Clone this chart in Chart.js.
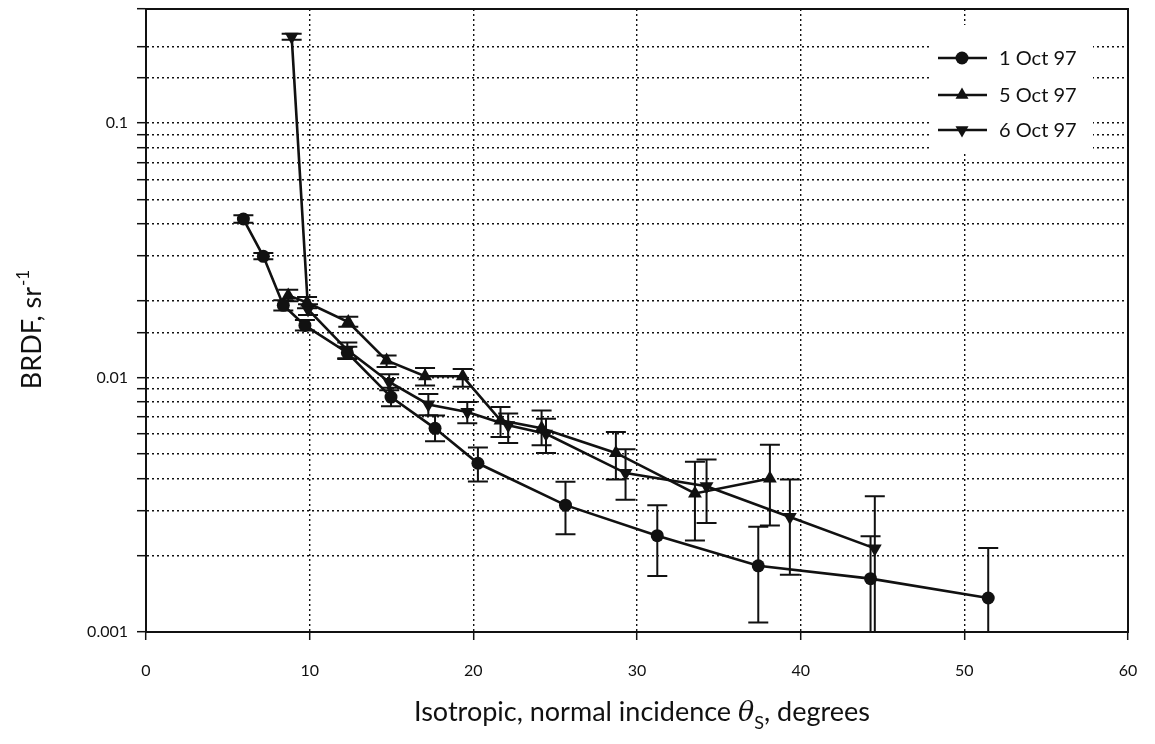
<!DOCTYPE html>
<html>
<head>
<meta charset="utf-8">
<script src="https://cdn.jsdelivr.net/npm/chart.js@4.4.0/dist/chart.umd.min.js"></script>
<style>
  html, body { margin: 0; padding: 0; background: #fff; }
</style>
</head>
<body>
<canvas id="brdfChart" width="1155" height="744"></canvas>
<script>
// 1 Oct 97 - angles (deg), BRDF (sr^-1) and error bar limits
const oct1Angle = [5.95, 7.17, 8.39, 9.71, 12.3, 14.97, 17.66, 20.28, 25.63, 31.24, 37.41, 44.27, 51.46];
const oct1Brdf  = [0.0419, 0.0299, 0.0192, 0.0160, 0.0125, 0.00837, 0.00631, 0.00460, 0.00315, 0.00239, 0.00182, 0.00162, 0.00136];
const oct1Low   = [0.0405, 0.0291, 0.0183, 0.0153, 0.0118, 0.0077, 0.00561, 0.0039, 0.00242, 0.00166, 0.00109, 0.0005, 0.0005];
const oct1High  = [0.0434, 0.0308, 0.0201, 0.0168, 0.0132, 0.0091, 0.00709, 0.00531, 0.00389, 0.00315, 0.00259, 0.00238, 0.00214];

// 5 Oct 97
const oct5Angle = [8.69, 9.84, 12.36, 14.7, 17.05, 19.35, 21.66, 24.17, 28.71, 33.54, 38.12];
const oct5Brdf  = [0.0210, 0.0197, 0.0165, 0.01166, 0.0101, 0.0101, 0.00678, 0.00631, 0.00505, 0.0035, 0.00401];
const oct5Low   = [0.0199, 0.0187, 0.0158, 0.0110, 0.0093, 0.0092, 0.00583, 0.00541, 0.00397, 0.00229, 0.00262];
const oct5High  = [0.0221, 0.0207, 0.0173, 0.0122, 0.0109, 0.0108, 0.00765, 0.00742, 0.00610, 0.00466, 0.00544];

// 6 Oct 97
const oct6Angle = [8.9, 9.9, 12.3, 14.86, 17.25, 19.63, 22.13, 24.44, 29.3, 34.25, 39.34, 44.53];
const oct6Brdf  = [0.218, 0.0185, 0.0128, 0.0096, 0.00783, 0.00731, 0.00649, 0.00601, 0.00421, 0.00374, 0.00283, 0.00213];
const oct6Low   = [0.212, 0.0176, 0.0119, 0.0089, 0.0071, 0.0066, 0.00553, 0.00505, 0.00331, 0.00268, 0.00168, 0.0005];
const oct6High  = [0.224, 0.0194, 0.0137, 0.0103, 0.0086, 0.0080, 0.00721, 0.00688, 0.00522, 0.00476, 0.00397, 0.00341];

// axis ticks
const xTicks = [0, 10, 20, 30, 40, 50, 60];
const yLabels = [0.001, 0.01, 0.1];

const seriesNames = ['1 Oct 97', '5 Oct 97', '6 Oct 97'];

const INK = '#111';
const FONT = 'Lato, "Open Sans", sans-serif';

function toPoints(xs, ys) {
    return xs.map((v, i) => ({ x: v, y: ys[i] }));
}

// error bars drawn under the markers
const errorBars = {
    id: 'errorBars',
    beforeDatasetsDraw(chart) {
        const { ctx, chartArea, scales: { x, y } } = chart;
        ctx.save();
        ctx.beginPath();
        ctx.rect(chartArea.left, chartArea.top, chartArea.width, chartArea.height);
        ctx.clip();
        ctx.strokeStyle = INK;
        ctx.lineWidth = 2;
        chart.data.datasets.forEach(ds => {
            ds.data.forEach((p, i) => {
                const px = x.getPixelForValue(p.x);
                const top = y.getPixelForValue(ds.errHigh[i]);
                const bot = y.getPixelForValue(ds.errLow[i]);
                ctx.beginPath();
                ctx.moveTo(px, top); ctx.lineTo(px, bot);
                ctx.moveTo(px - 10, top); ctx.lineTo(px + 10, top);
                ctx.moveTo(px - 10, bot); ctx.lineTo(px + 10, bot);
                ctx.stroke();
            });
        });
        ctx.restore();
    }
};

function marker(ctx, style, cx, cy) {
    ctx.beginPath();
    if (style === 'circle') {
        ctx.arc(cx, cy, 6.5, 0, Math.PI * 2);
    } else {
        const r = 7.5, dir = style === 'up' ? 1 : -1;
        ctx.moveTo(cx, cy - dir * r);
        ctx.lineTo(cx + r * 0.866, cy + dir * r * 0.5);
        ctx.lineTo(cx - r * 0.866, cy + dir * r * 0.5);
        ctx.closePath();
    }
    ctx.fill();
}

// frame, legend and axis titles
const decorations = {
    id: 'decorations',
    afterDraw(chart) {
        const { ctx, chartArea: a } = chart;
        ctx.save();
        ctx.strokeStyle = INK;
        ctx.lineWidth = 2;
        ctx.strokeRect(a.left, a.top, a.right - a.left, a.bottom - a.top);

        // legend box inside the plot
        ctx.fillStyle = '#fff';
        ctx.fillRect(929, 25, 164, 127);
        const styles = ['circle', 'up', 'down'];
        const rows = [58, 95, 130];
        ctx.fillStyle = INK;
        ctx.lineWidth = 2.5;
        ctx.font = '20px ' + FONT;
        ctx.textBaseline = 'middle';
        ctx.textAlign = 'left';
        rows.forEach((ry, i) => {
            ctx.beginPath();
            ctx.moveTo(938, ry); ctx.lineTo(987, ry);
            ctx.stroke();
            marker(ctx, styles[i], 962, ry);
            ctx.fillText(seriesNames[i], 999, ry + 1);
        });

        // x title with italic theta and subscript
        ctx.textBaseline = 'alphabetic';
        const parts = [
            { t: 'Isotropic, normal incidence ', f: '27px ' + FONT, dy: 0 },
            { t: '\u03b8', f: 'italic 27px "DejaVu Serif", serif', dy: 0 },
            { t: 'S', f: '18px ' + FONT, dy: 8 },
            { t: ', degrees', f: '27px ' + FONT, dy: 0 }
        ];
        let total = 0;
        parts.forEach(p => { ctx.font = p.f; p.w = ctx.measureText(p.t).width; total += p.w; });
        let cx = 642 - total / 2;
        parts.forEach(p => {
            ctx.font = p.f;
            ctx.fillText(p.t, cx, 721 + p.dy);
            cx += p.w;
        });

        // y title, rotated, with superscript
        ctx.translate(41, 330);
        ctx.rotate(-Math.PI / 2);
        ctx.font = '27px ' + FONT;
        const main = 'BRDF, sr';
        const w1 = ctx.measureText(main).width;
        ctx.font = '17px ' + FONT;
        const w2 = ctx.measureText('-1').width;
        const start = -(w1 + w2) / 2;
        ctx.font = '27px ' + FONT;
        ctx.fillText(main, start, 0);
        ctx.font = '17px ' + FONT;
        ctx.fillText('-1', start + w1 + 1, -12);
        ctx.restore();
    }
};

const lineSet = (label, xs, ys, lo, hi, style, rot) => ({
    label: label,
    data: toPoints(xs, ys),
    errLow: lo,
    errHigh: hi,
    showLine: true,
    borderColor: INK,
    backgroundColor: INK,
    borderWidth: 2.6,
    pointStyle: style,
    pointRotation: rot,
    pointRadius: style === 'circle' ? 6.5 : 8,
    pointBackgroundColor: INK,
    pointBorderColor: INK,
    pointBorderWidth: 0,
    tension: 0
});

const gridStyle = {
    color: INK,
    lineWidth: 1.4,
    tickColor: INK,
    tickWidth: 1.5,
    tickBorderDash: []
};

new Chart(document.getElementById('brdfChart').getContext('2d'), {
    type: 'scatter',
    data: {
        datasets: [
            lineSet(seriesNames[0], oct1Angle, oct1Brdf, oct1Low, oct1High, 'circle', 0),
            lineSet(seriesNames[1], oct5Angle, oct5Brdf, oct5Low, oct5High, 'triangle', 0),
            lineSet(seriesNames[2], oct6Angle, oct6Brdf, oct6Low, oct6High, 'triangle', 180)
        ]
    },
    options: {
        responsive: false,
        animation: false,
        layout: { padding: { top: 9, right: 27, left: 0, bottom: 0 } },
        plugins: {
            legend: { display: false },
            tooltip: { enabled: false }
        },
        scales: {
            x: {
                type: 'linear',
                min: 0,
                max: 60,
                afterFit(scale) {
                    scale.height = 112;
                    scale.paddingLeft = 0;
                    scale.paddingRight = 0;
                },
                afterBuildTicks(scale) { scale.ticks = xTicks.map(v => ({ value: v })); },
                grid: Object.assign({ tickLength: 8 }, gridStyle),
                border: { display: true, color: INK, width: 2, dash: [2, 3] },
                ticks: {
                    color: INK,
                    padding: 21,
                    font: { family: FONT, size: 16 }
                }
            },
            y: {
                type: 'logarithmic',
                min: 0.001,
                max: 0.28,
                afterFit(scale) {
                    scale.width = 146;
                    scale.paddingTop = 0;
                    scale.paddingBottom = 0;
                },
                grid: Object.assign({ tickLength: 9 }, gridStyle),
                border: { display: true, color: INK, width: 2, dash: [2, 3] },
                ticks: {
                    autoSkip: false,
                    color: INK,
                    padding: 9,
                    font: { family: FONT, size: 16 },
                    callback(value) {
                        const hit = yLabels.find(v => Math.abs(Math.log10(value) - Math.log10(v)) < 1e-6);
                        return hit === undefined ? '' : String(hit);
                    }
                }
            }
        }
    },
    plugins: [errorBars, decorations]
});
</script>
</body>
</html>
